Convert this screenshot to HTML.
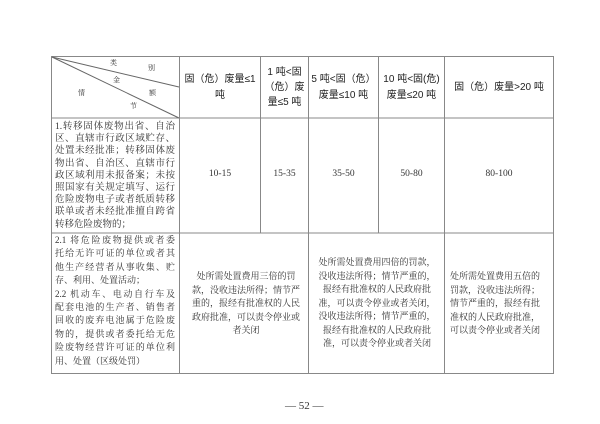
<!DOCTYPE html>
<html><head><meta charset="utf-8"><style>
body{margin:0;width:600px;height:424px;background:#fff;position:relative;overflow:hidden}
.t{position:absolute;color:#333;font-family:"Liberation Serif","Noto Serif CJK SC",serif;font-size:9.5px;}
.t div{white-space:nowrap}
.j div{text-align:justify;text-align-last:justify}
.h{position:absolute;color:#222;font-family:"Liberation Sans","Noto Sans CJK SC",sans-serif;font-size:10px;text-align:center;line-height:16px;display:flex;align-items:center;justify-content:center}
.c{text-align:center}
</style></head><body>
<svg width="600" height="424" style="position:absolute;left:0;top:0">
<g stroke="#888" stroke-width="1" fill="none">
<rect x="51.5" y="56.5" width="502" height="317"/>
<line x1="51" y1="118" x2="554" y2="118"/>
<line x1="51" y1="233" x2="554" y2="233"/>
<line x1="179.5" y1="56" x2="179.5" y2="374"/>
<line x1="260.5" y1="56" x2="260.5" y2="233"/>
<line x1="308.5" y1="56" x2="308.5" y2="374"/>
<line x1="378.5" y1="56" x2="378.5" y2="233"/>
<line x1="444.5" y1="56" x2="444.5" y2="374"/>
<line x1="52" y1="57" x2="179" y2="87" stroke="#666"/>
<line x1="52" y1="57" x2="179" y2="118" stroke="#666"/>
</g></svg>
<div class="t" style="left:110px;top:58px;font-size:7px">类</div>
<div class="t" style="left:148px;top:63px;font-size:7px">别</div>
<div class="t" style="left:113px;top:75px;font-size:7px">金</div>
<div class="t" style="left:78px;top:88px;font-size:7px">情</div>
<div class="t" style="left:149px;top:88px;font-size:7px">额</div>
<div class="t" style="left:130px;top:101px;font-size:7px">节</div>
<div class="h" style="left:180px;top:57px;width:80px;height:61px">固（危）废量≤1<br>吨</div>
<div class="h" style="left:261px;top:57px;width:47px;height:61px;line-height:15px">1 吨&lt;固<br>（危）废<br>量≤5 吨</div>
<div class="h" style="left:309px;top:57px;width:69px;height:61px">5 吨&lt;固（危）<br>废量≤10 吨</div>
<div class="h" style="left:379px;top:57px;width:65px;height:61px">10 吨&lt;固(危)<br>废量≤20 吨</div>
<div class="h" style="left:445px;top:57px;width:108px;height:61px">固（危）废量&gt;20 吨</div>
<div class="t j" style="left:55px;top:121px;width:120px;line-height:12.2px">
<div>1.转移固体废物出省、自治</div>
<div>区、直辖市行政区域贮存、</div>
<div>处置未经批准；转移固体废</div>
<div>物出省、自治区、直辖市行</div>
<div>政区域利用未报备案；未按</div>
<div>照国家有关规定填写、运行</div>
<div>危险废物电子或者纸质转移</div>
<div>联单或者未经批准擅自跨省</div>
<div style="text-align-last:left">转移危险废物的；</div>
</div>
<div class="t c" style="left:180px;top:169px;width:80px">10-15</div>
<div class="t c" style="left:261px;top:169px;width:47px">15-35</div>
<div class="t c" style="left:309px;top:169px;width:69px">35-50</div>
<div class="t c" style="left:379px;top:169px;width:65px">50-80</div>
<div class="t c" style="left:445px;top:169px;width:108px">80-100</div>
<div class="t j" style="left:55px;top:234px;width:120px;font-size:9px;line-height:13.4px">
<div>2.1 将危险废物提供或者委</div>
<div>托给无许可证的单位或者其</div>
<div>他生产经营者从事收集、贮</div>
<div style="text-align-last:left">存、利用、处置活动；</div>
<div>2.2 机动车、电动自行车及</div>
<div>配套电池的生产者、销售者</div>
<div>回收的废弃电池属于危险废</div>
<div>物的，提供或者委托给无危</div>
<div>险废物经营许可证的单位利</div>
<div style="text-align-last:left">用、处置（区级处罚）</div>
</div>
<div class="t c" style="left:188px;top:270px;width:116px;font-size:9px;line-height:13.5px">
<div>处所需处置费用三倍的罚</div><div>款，没收违法所得；情节严</div><div>重的，报经有批准权的人民</div><div>政府批准，可以责令停业或</div><div>者关闭</div></div>
<div class="t c" style="left:312px;top:256px;width:130px;font-size:9px;line-height:13.5px">
<div>处所需处置费用四倍的罚款，</div><div>没收违法所得；情节严重的，</div><div>报经有批准权的人民政府批</div><div>准，可以责令停业或者关闭，</div><div>没收违法所得；情节严重的，</div><div>报经有批准权的人民政府批</div><div>准，可以责令停业或者关闭</div></div>
<div class="t" style="left:450px;top:270px;width:103px;font-size:9px;line-height:13.5px">
<div>处所需处置费用五倍的</div><div>罚款，没收违法所得；</div><div>情节严重的，报经有批</div><div>准权的人民政府批准，</div><div>可以责令停业或者关闭</div></div>
<div class="t" style="left:285px;top:400px;font-size:11px">— 52 —</div>
</body></html>
